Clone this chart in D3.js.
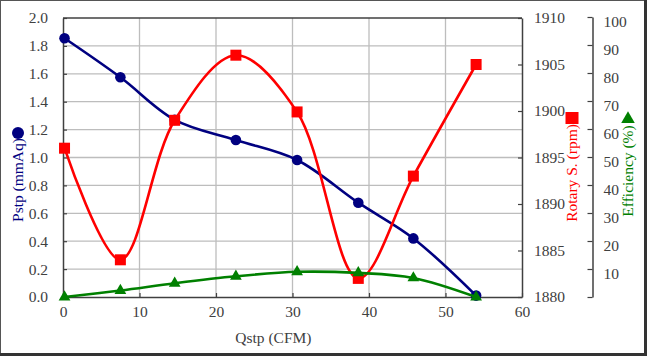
<!DOCTYPE html>
<html>
<head>
<meta charset="utf-8">
<script src="https://cdn.jsdelivr.net/npm/d3@7"></script>
<style>
  html, body { margin: 0; padding: 0; background: #fff; }
  svg { display: block; }
  svg text { font-family: "Liberation Serif", "DejaVu Serif", serif !important; }
</style>
</head>
<body>
<svg id="chart" width="647" height="356"></svg>
<script>
// ---- data ----
const qstp = [0.2, 7.5, 14.6, 22.6, 30.6, 38.6, 45.8, 54.0];
const pstp = [1.855, 1.575, 1.27, 1.125, 0.982, 0.676, 0.42, 0.01];
const rotary = [1896.0, 1884.0, 1899.0, 1906.0, 1899.9, 1882.0, 1893.0, 1905.0];
const efficiency = [0, 2.3, 4.9, 7.4, 9.0, 8.6, 6.8, 0];
const xTicks = [0, 10, 20, 30, 40, 50, 60];
const pTicks = [0, 0.2, 0.4, 0.6, 0.8, 1.0, 1.2, 1.4, 1.6, 1.8, 2.0];
const rTicks = [1880, 1885, 1890, 1895, 1900, 1905, 1910];
const eTicks = [10, 20, 30, 40, 50, 60, 70, 80, 90, 100];
const xTitle = "Qstp (CFM)";
const pTitle = "Pstp (mmAq)";
const rTitle = "Rotary S. (rpm)";
const eTitle = "Efficiency (%)";

const W = 647, H = 356;
const plot = { left: 63, right: 522, top: 18, bottom: 297 };
const effAxisX = 592.5;
const FONT = "'Liberation Serif', 'DejaVu Serif', serif";
const FS = 15.5;

const svg = d3.select("#chart");
svg.append("rect").attr("width", W).attr("height", H).attr("fill", "#fff");

const x = d3.scaleLinear().domain([0, 60]).range([plot.left, plot.right]);
const yP = d3.scaleLinear().domain([0, 2]).range([plot.bottom, plot.top]);
const yR = d3.scaleLinear().domain([1880, 1910]).range([plot.bottom, plot.top]);
const yE = d3.scaleLinear().domain([0, 100]).range([plot.bottom, 17]);

const axisColor = "#404040";
const textColor = "#404040";
const gridColor = "#bdbdbd";

// grid
const grid = svg.append("g");
grid.selectAll("line.h").data(pTicks.slice(1, -1)).enter().append("line")
  .attr("x1", plot.left).attr("x2", plot.right)
  .attr("y1", d => yP(d)).attr("y2", d => yP(d))
  .attr("stroke", gridColor).attr("stroke-width", 1.3);
grid.selectAll("line.v").data(xTicks.slice(1, -1)).enter().append("line")
  .attr("y1", plot.top).attr("y2", plot.bottom)
  .attr("x1", d => x(d)).attr("x2", d => x(d))
  .attr("stroke", gridColor).attr("stroke-width", 1.3);

// axes
function styleAxis(g) {
  g.attr("font-family", FONT).attr("font-size", FS);
  g.select(".domain").attr("stroke", axisColor).attr("stroke-width", 1.5);
  g.selectAll(".tick line").attr("stroke", axisColor).attr("stroke-width", 1.2);
  g.selectAll(".tick text").attr("fill", textColor)
    .attr("font-family", FONT).attr("font-size", FS)
    .style("font-family", FONT).style("font-size", FS + "px");
}
const fmt1 = d3.format(".1f");

svg.append("g").attr("transform", `translate(0,${plot.bottom})`)
  .call(d3.axisBottom(x).tickValues(xTicks).tickSizeInner(-4).tickSizeOuter(0).tickPadding(9))
  .call(styleAxis);

svg.append("g").attr("transform", `translate(${plot.left},0)`)
  .call(d3.axisLeft(yP).tickValues(pTicks).tickFormat(fmt1).tickSizeInner(-4).tickSizeOuter(0).tickPadding(15))
  .call(styleAxis);

svg.append("g").attr("transform", `translate(${plot.right},0)`)
  .call(d3.axisRight(yR).tickValues(rTicks).tickFormat(d3.format("d")).tickSizeInner(-4).tickSizeOuter(0).tickPadding(12))
  .call(styleAxis);

// top border of plot area
svg.append("line").attr("x1", plot.left).attr("x2", plot.right)
  .attr("y1", plot.top).attr("y2", plot.top)
  .attr("stroke", axisColor).attr("stroke-width", 1.5);

// efficiency axis
svg.append("g").attr("transform", `translate(${effAxisX},0)`)
  .call(d3.axisRight(yE).tickValues([0].concat(eTicks)).tickFormat(d => d === 0 ? "" : d)
    .tickSizeInner(-5).tickSizeOuter(0).tickPadding(11))
  .call(styleAxis)
  .call(g => g.selectAll(".tick text").attr("dy", "0.6em"));

// series
const smooth = d3.curveCatmullRom.alpha(0.5);
const idx = d3.range(qstp.length);

function series(vals, yScale, color) {
  const line = d3.line().x(i => x(qstp[i])).y(i => yScale(vals[i])).curve(smooth);
  svg.append("path").datum(idx).attr("d", line)
    .attr("fill", "none").attr("stroke", color).attr("stroke-width", 2.6);
}
series(pstp, yP, "#000080");
svg.append("g").selectAll("circle").data(idx).enter().append("circle")
  .attr("cx", i => x(qstp[i])).attr("cy", i => yP(pstp[i])).attr("r", 5.3).attr("fill", "#000080");

series(rotary, yR, "#ff0000");
svg.append("g").selectAll("rect").data(idx).enter().append("rect")
  .attr("x", i => x(qstp[i]) - 5.5).attr("y", i => yR(rotary[i]) - 5.5)
  .attr("width", 11).attr("height", 11).attr("fill", "#ff0000");

series(efficiency, yE, "#008000");
const tri = d3.symbol().type(d3.symbolTriangle).size(60);
svg.append("g").selectAll("path").data(idx).enter().append("path")
  .attr("d", tri)
  .attr("transform", i => `translate(${x(qstp[i])},${yE(efficiency[i])})`)
  .attr("fill", "#008000");

// axis titles
function title(t, tx, ty, rot, color) {
  svg.append("text")
    .attr("transform", `translate(${tx},${ty})` + (rot ? " rotate(-90)" : ""))
    .attr("text-anchor", "middle").attr("font-family", FONT).attr("font-size", FS)
    .attr("fill", color).text(t);
}
title(xTitle, x(27.5), 343, false, textColor);
title(pTitle, 23, 180, true, "#000080");
title(rTitle, 577, 173, true, "#ff0000");
title(eTitle, 633, 171, true, "#008000");

svg.append("circle").attr("cx", 18).attr("cy", 133).attr("r", 6).attr("fill", "#000080");
svg.append("rect").attr("x", 565.5).attr("y", 112).attr("width", 13).attr("height", 12).attr("fill", "#ff0000");
svg.append("path").attr("d", d3.symbol().type(d3.symbolTriangle).size(80))
  .attr("transform", "translate(628,119)").attr("fill", "#008000");

// outer frame
svg.append("line").attr("x1", 0).attr("x2", W).attr("y1", 0.5).attr("y2", 0.5).attr("stroke", "#555").attr("stroke-width", 1);
svg.append("line").attr("x1", 0.5).attr("x2", 0.5).attr("y1", 0).attr("y2", H).attr("stroke", "#555").attr("stroke-width", 1);
svg.append("line").attr("x1", W - 1.5).attr("x2", W - 1.5).attr("y1", 0).attr("y2", H).attr("stroke", "#333").attr("stroke-width", 3);
svg.append("line").attr("x1", 0).attr("x2", W).attr("y1", H - 1.5).attr("y2", H - 1.5).attr("stroke", "#333").attr("stroke-width", 3);
</script>
</body>
</html>
